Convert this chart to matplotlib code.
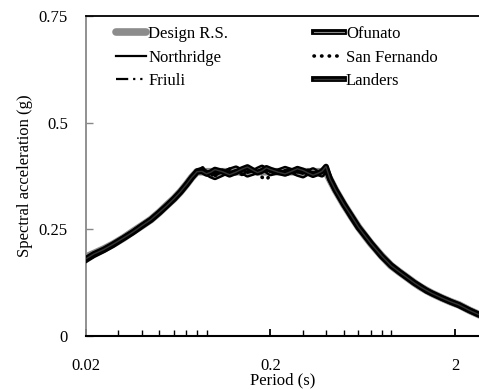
import matplotlib
matplotlib.use("Agg")
import matplotlib.pyplot as plt
import matplotlib.patheffects as pe
from matplotlib.ticker import FixedLocator, LogLocator, NullFormatter

plt.rcParams['font.family'] = ['Liberation Serif', 'DejaVu Serif']

periods = [0.02, 0.022, 0.025, 0.028, 0.032, 0.036, 0.04, 0.045, 0.05, 0.055,
           0.06, 0.065, 0.07, 0.075, 0.08,
           0.085, 0.09, 0.095, 0.1, 0.11, 0.12, 0.13, 0.14, 0.15, 0.16, 0.17, 0.18,
           0.19, 0.2, 0.22, 0.24, 0.26, 0.28, 0.3, 0.32, 0.34, 0.36, 0.38, 0.4,
           0.42, 0.45, 0.5, 0.55, 0.6, 0.65, 0.7, 0.8, 0.9, 1.0, 1.1, 1.2, 1.3,
           1.4, 1.5, 1.7, 1.9, 2.1, 2.4, 2.7, 3.0]

design = [0.185, 0.193, 0.204, 0.215, 0.230, 0.245, 0.258, 0.273, 0.290, 0.307,
          0.322, 0.338, 0.355, 0.372, 0.385,
          0.385, 0.385, 0.385, 0.385, 0.385, 0.385, 0.385, 0.385, 0.385, 0.385, 0.385, 0.385,
          0.385, 0.385, 0.385, 0.385, 0.385, 0.385, 0.385, 0.385, 0.385, 0.385, 0.385, 0.385,
          0.367, 0.342, 0.308, 0.280, 0.255, 0.235, 0.217, 0.188, 0.165, 0.150, 0.137, 0.125, 0.115,
          0.107, 0.100, 0.089, 0.080, 0.073, 0.060, 0.050, 0.045]

northridge = [0.180, 0.190, 0.202, 0.214, 0.228, 0.244, 0.257, 0.271, 0.289, 0.305,
              0.320, 0.337, 0.354, 0.371, 0.384,
              0.388, 0.383, 0.380, 0.386, 0.390, 0.384, 0.379, 0.387, 0.392, 0.385, 0.381, 0.388,
              0.390, 0.384, 0.380, 0.389, 0.391, 0.383, 0.386, 0.390, 0.382, 0.385, 0.388, 0.392,
              0.370, 0.340, 0.306, 0.282, 0.253, 0.236, 0.215, 0.190, 0.163, 0.151, 0.135, 0.126, 0.113,
              0.108, 0.098, 0.090, 0.079, 0.073, 0.061, 0.050, 0.046]

san_fernando = [0.176, 0.188, 0.200, 0.213, 0.229, 0.242, 0.256, 0.272, 0.288, 0.306,
                0.321, 0.336, 0.352, 0.373, 0.390,
                0.395, 0.389, 0.381, 0.376, 0.384, 0.391, 0.386, 0.378, 0.383, 0.390, 0.380, 0.372,
                0.366, 0.378, 0.388, 0.383, 0.377, 0.385, 0.391, 0.384, 0.379, 0.387, 0.383, 0.390,
                0.365, 0.344, 0.310, 0.278, 0.257, 0.233, 0.219, 0.186, 0.166, 0.148, 0.138, 0.123, 0.116,
                0.105, 0.101, 0.088, 0.081, 0.071, 0.062, 0.049, 0.044]

friuli = [0.182, 0.191, 0.203, 0.216, 0.231, 0.246, 0.259, 0.274, 0.291, 0.308,
          0.323, 0.339, 0.356, 0.370, 0.382,
          0.384, 0.378, 0.374, 0.381, 0.387, 0.392, 0.384, 0.377, 0.386, 0.394, 0.388, 0.380,
          0.385, 0.392, 0.386, 0.379, 0.384, 0.390, 0.385, 0.380, 0.376, 0.384, 0.390, 0.395,
          0.368, 0.341, 0.307, 0.281, 0.256, 0.234, 0.216, 0.189, 0.164, 0.149, 0.136, 0.124, 0.114,
          0.106, 0.099, 0.088, 0.079, 0.072, 0.059, 0.049, 0.044]

ofunato = [0.178, 0.189, 0.201, 0.213, 0.229, 0.243, 0.257, 0.272, 0.289, 0.306,
           0.321, 0.337, 0.354, 0.371, 0.386,
           0.390, 0.382, 0.376, 0.372, 0.380, 0.388, 0.393, 0.386, 0.378, 0.382, 0.390, 0.395,
           0.388, 0.381, 0.386, 0.392, 0.387, 0.380, 0.376, 0.383, 0.389, 0.382, 0.378, 0.393,
           0.369, 0.343, 0.309, 0.279, 0.254, 0.236, 0.218, 0.187, 0.166, 0.150, 0.137, 0.125, 0.116,
           0.106, 0.100, 0.089, 0.080, 0.072, 0.060, 0.050, 0.045]

landers = [0.181, 0.192, 0.203, 0.215, 0.230, 0.244, 0.258, 0.273, 0.290, 0.306,
           0.322, 0.338, 0.355, 0.372, 0.385,
           0.386, 0.380, 0.384, 0.390, 0.385, 0.378, 0.384, 0.391, 0.396, 0.389, 0.383, 0.387,
           0.394, 0.390, 0.384, 0.380, 0.386, 0.392, 0.388, 0.382, 0.377, 0.381, 0.386, 0.397,
           0.368, 0.342, 0.308, 0.281, 0.255, 0.235, 0.217, 0.188, 0.165, 0.150, 0.137, 0.125, 0.115,
           0.107, 0.100, 0.089, 0.080, 0.073, 0.060, 0.050, 0.045]

x_ticks = [0.02, 0.2, 2]
x_ticklabels = ['0.02', '0.2', '2']
y_ticks = [0, 0.25, 0.5, 0.75]
y_ticklabels = ['0', '0.25', '0.5', '0.75']

fig = plt.figure(figsize=(4.79, 3.90), dpi=100)
ax = fig.add_axes([86/479, 54/390, 1 - 86/479, (336-16)/390])

outline = [pe.Stroke(linewidth=4.2, foreground='black'), pe.Normal()]

ax.plot(periods, design, color='#8c8c8c', lw=5.5, solid_capstyle='round', label='Design R.S.', zorder=2)
ax.plot(periods, ofunato, color='#8a8a8a', lw=0.8, path_effects=outline, label='Ofunato', zorder=3)
ax.plot(periods, northridge, color='black', lw=1.6, label='Northridge', zorder=3)
ax.plot(periods, san_fernando, color='black', lw=2.6, linestyle=(0, (0.1, 2.0)),
        dash_capstyle='round', label='San Fernando', zorder=3)
ax.plot(periods, friuli, color='black', lw=1.6, linestyle=(0, (5.5, 2.2, 1.0, 2.2, 1.0, 2.2)),
        label='Friuli', zorder=3)
ax.plot(periods, landers, color='#333333', lw=1.0, path_effects=outline, label='Landers', zorder=3)

ax.set_xscale('log')
ax.set_xlim(0.02, 2.70)
ax.set_ylim(0, 0.75)

ax.xaxis.set_major_locator(FixedLocator(x_ticks))
ax.set_xticklabels(x_ticklabels)
ax.xaxis.set_minor_locator(LogLocator(base=10, subs=range(2, 10), numticks=20))
ax.xaxis.set_minor_formatter(NullFormatter())
ax.set_yticks(y_ticks)
ax.set_yticklabels(y_ticklabels)

ax.tick_params(axis='x', which='major', direction='in', length=5, width=1.3, colors='black',
               labelsize=12, pad=16)
ax.tick_params(axis='x', which='minor', direction='in', length=4, width=1.0, colors='black')
ax.tick_params(axis='y', which='major', direction='in', length=5, width=1.0, color='#888888',
               labelcolor='black', labelsize=12, pad=13)

ax.spines['right'].set_visible(False)
ax.spines['top'].set_color('black')
ax.spines['top'].set_linewidth(1.3)
ax.spines['bottom'].set_color('black')
ax.spines['bottom'].set_linewidth(1.5)
ax.spines['left'].set_color('#888888')
ax.spines['left'].set_linewidth(1.3)

ax.set_xlabel('Period (s)', fontsize=12, labelpad=-1)
ax.set_ylabel('Spectral acceleration (g)', fontsize=12, labelpad=4)

handles, labels = ax.get_legend_handles_labels()
order = [0, 2, 4, 1, 3, 5]
leg = ax.legend([handles[i] for i in order], [labels[i] for i in order], ncol=2,
                frameon=False, fontsize=12, handlelength=1.8, handletextpad=0.15,
                columnspacing=5.1, labelspacing=0.45, borderaxespad=0, borderpad=0,
                loc='upper left', bbox_to_anchor=(116/479, 1 - 26/390),
                bbox_transform=fig.transFigure)

fig.savefig('out.png', dpi=100)
